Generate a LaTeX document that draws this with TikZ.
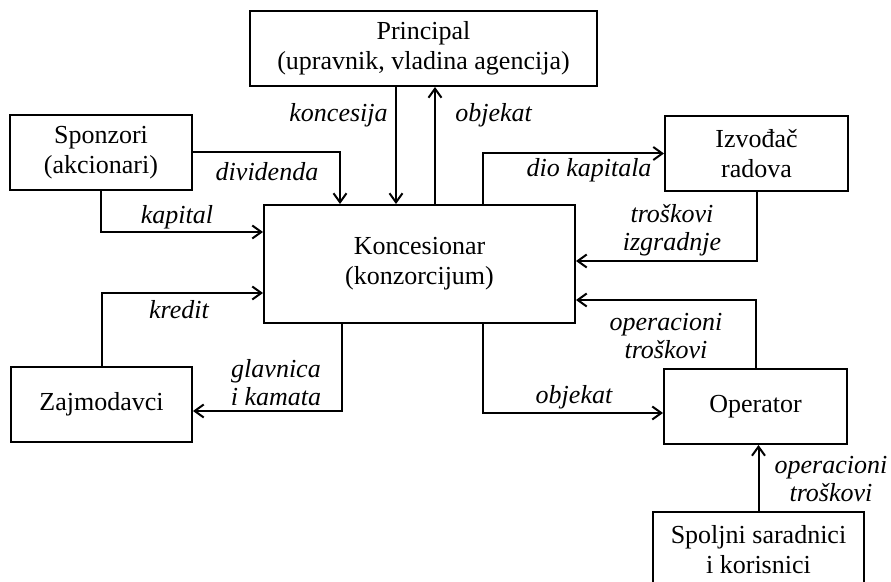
\documentclass[tikz,border=0pt]{standalone}
\usepackage{fontspec}
\setmainfont{Liberation Serif}
\usetikzlibrary{arrows.meta, positioning, calc}

\begin{document}
\begin{tikzpicture}[x=0.5pt, y=-0.5pt,
    box/.style={draw, line width=1pt, align=center, minimum height=37.5pt, font=\fontsize{13}{15}\selectfont},
    lbl/.style={inner sep=1pt, align=center, font=\fontsize{13}{14}\selectfont\itshape},
    flow/.style={line width=1pt, -{Straight Barb[length=4.5pt, width=6.5pt]}}]
    \useasboundingbox (0,0) rectangle (891,582);

    % Boxes (coordinates in px, y downwards)
    \node[box, minimum width=173.5pt] (prin) at (423.5,48.5) {Principal\\(upravnik, vladina agencija)};
    \node[box, minimum width=91pt] (spons) at (101,152.5) {Sponzori\\(akcionari)};
    \node[box, minimum width=155.5pt, minimum height=59pt] (konc) at (419.5,264) {Koncesionar\\(konzorcijum)};
    \node[box, minimum width=91.5pt] (izv) at (756.5,153.5) {Izvođač\\radova};
    \node[box, minimum width=90.5pt] (zaj) at (101.5,404.5) {Zajmodavci};
    \node[box, minimum width=91.5pt] (oper) at (755.5,406.5) {Operator};
    \node[box, minimum width=105.5pt] (spolj) at (758.5,549.5) {Spoljni saradnici\\i korisnici};

    % Attachment points on the Koncesionar border
    \coordinate (kn1) at ($(konc.north west)+(77,0)$);
    \coordinate (kn2) at ($(konc.north west)+(133,0)$);
    \coordinate (kn3) at ($(konc.north west)+(172,0)$);
    \coordinate (kn4) at ($(konc.north west)+(220,0)$);
    \coordinate (ks1) at ($(konc.south west)+(79,0)$);
    \coordinate (ks2) at ($(konc.south west)+(220,0)$);
    \coordinate (kw1) at ($(konc.north west)+(0,28)$);
    \coordinate (kw2) at ($(konc.north west)+(0,89)$);
    \coordinate (ke1) at ($(konc.north east)+(0,57)$);
    \coordinate (ke2) at ($(konc.north east)+(0,96)$);
    \coordinate (zin) at ($(zaj.north east)+(0,45)$);
    \coordinate (oin) at ($(oper.north west)+(0,45)$);

    % Flows
    \draw[flow] (spons.east) -| (kn1);
    \draw[flow] (prin.south -| kn2) -- (kn2);
    \draw[flow] (kn3) -- (prin.south -| kn3);
    \draw[flow] (kn4) |- (izv.west);
    \draw[flow] (izv.south) |- (ke1);
    \draw[flow] (oper.north) |- (ke2);
    \draw[flow] (spolj.north) -- (spolj.north |- oper.south);
    \draw[flow] (spons.south) |- (kw1);
    \draw[flow] (zaj.north) |- (kw2);
    \draw[flow] (ks1) |- (zin);
    \draw[flow] (ks2) |- (oin);

    % Labels
    \node[lbl, anchor=base east] (lkonc) at (390,122) {koncesija};
    \node[lbl, anchor=base west] (lobj1) at (453,122) {objekat};
    \node[lbl, anchor=base] (ldiv) at (267,181) {dividenda};
    \node[lbl, anchor=base] (lkap) at (177,224) {kapital};
    \node[lbl, anchor=base] (lkred) at (179,319) {kredit};
    \node[lbl] (lglav) at (276,383) {glavnica\\i kamata};
    \node[lbl, anchor=base] (ldio) at (589,177) {dio kapitala};
    \node[lbl] (ltros) at (672,230) {troškovi\\izgradnje};
    \node[lbl] (lop1) at (666,336) {operacioni\\troškovi};
    \node[lbl, anchor=base] (lobj2) at (574,404) {objekat};
    \node[lbl] (lop2) at (831,479) {operacioni\\troškovi};
\end{tikzpicture}
\end{document}
